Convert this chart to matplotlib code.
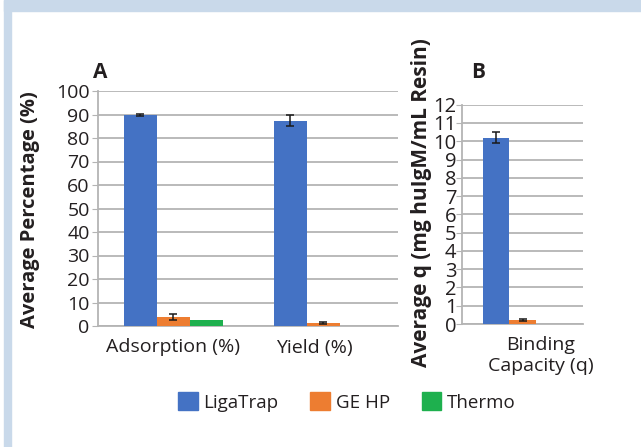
import numpy as np
import matplotlib.pyplot as plt
import matplotlib.transforms as mtransforms
from matplotlib.patches import Rectangle, Patch

plt.rcParams['font.family'] = ['Open Sans', 'DejaVu Sans']

# datos
series = ['LigaTrap', 'GE HP', 'Thermo']
colores = ['#4472C4', '#ED7D31', '#1EB04E']

cat_a = ['Adsorption (%)', 'Yield (%)']
val_a = {'LigaTrap': [89.8, 87.4], 'GE HP': [3.8, 1.3], 'Thermo': [2.6, 0.0]}
err_a = {'LigaTrap': [0.5, 2.4], 'GE HP': [1.3, 0.3], 'Thermo': [0.0, 0.0]}

cat_b = ['Binding\nCapacity (q)']
val_b = {'LigaTrap': [10.2], 'GE HP': [0.22], 'Thermo': [0.0]}
err_b = {'LigaTrap': [0.3], 'GE HP': [0.03], 'Thermo': [0.0]}

W, H = 641, 447
fig = plt.figure(figsize=(W / 100, H / 100), dpi=100)

# marco celeste de la pagina
azul = '#C9D9EA'
fig.patches.append(Rectangle((4 / W, 1 - 11 / H), 1, 11 / H, transform=fig.transFigure,
                             color=azul, zorder=0))
fig.patches.append(Rectangle((4 / W, 0), 7 / W, 1, transform=fig.transFigure,
                             color=azul, zorder=0))

gris = '#B4B4B4'
texto = '#231F20'
ancho = 0.22


def panel(ax, cats, vals, errs, ymax, paso):
    x = np.arange(len(cats))
    for i, s in enumerate(series):
        xs = x + (i - 1) * ancho
        ax.bar(xs, vals[s], ancho, color=colores[i], zorder=3)
        e = np.array(errs[s], dtype=float)
        m = e > 0
        if m.any():
            ax.errorbar(xs[m], np.array(vals[s])[m], yerr=e[m], fmt='none',
                        ecolor='#1a1a1a', elinewidth=1.1, capthick=1.1, capsize=3, zorder=4)
    ax.set_xlim(-0.5, len(cats) - 0.5)
    ax.set_ylim(0, ymax)
    ax.set_yticks(np.arange(0, ymax + 0.01, paso))
    ax.set_xticks(x)
    ax.set_xticklabels(cats, fontsize=14, color=texto)
    ax.yaxis.grid(True, color=gris, lw=1.3, zorder=0)
    for lado in ['top', 'right']:
        ax.spines[lado].set_visible(False)
    for lado in ['left', 'bottom']:
        ax.spines[lado].set_color(gris)
        ax.spines[lado].set_linewidth(1.3)
    ax.tick_params(axis='y', length=4, color=gris, labelsize=14, labelcolor=texto, pad=2)
    ax.tick_params(axis='x', length=0, pad=9)


def correr(lab, px):
    t = mtransforms.ScaledTranslation(px / 100, 0, fig.dpi_scale_trans)
    lab.set_transform(lab.get_transform() + t)


axA = fig.add_axes([98 / W, 1 - 326 / H, 300 / W, 235 / H])
panel(axA, cat_a, val_a, err_a, 100, 10)
correr(axA.get_xticklabels()[1], -9)

axB = fig.add_axes([462 / W, 1 - 324 / H, 121 / W, 219.3 / H])
panel(axB, cat_b, val_b, err_b, 12, 1)
axB.tick_params(axis='y', pad=0, labelsize=14.5)
correr(axB.get_xticklabels()[0], 18)

fig.text(30 / W, 1 - 210 / H, 'Average Percentage (%)', rotation=90, fontsize=14.5,
         fontweight='bold', ha='center', va='center', color=texto)
fig.text(422 / W, 1 - 203 / H, 'Average q (mg huIgM/mL Resin)', rotation=90, fontsize=15,
         fontweight='bold', ha='center', va='center', color=texto)
fig.text(100 / W, 1 - 72 / H, 'A', fontsize=15, fontweight='bold', ha='center', va='center',
         color=texto)
fig.text(478 / W, 1 - 72 / H, 'B', fontsize=15, fontweight='bold', ha='center', va='center',
         color=texto)

handles = [Patch(color=c, label=s) for s, c in zip(series, colores)]
fig.legend(handles=handles, loc='center', bbox_to_anchor=(347 / W, 1 - 402 / H), ncol=3,
           frameon=False, fontsize=13.5, handlelength=1.05, handleheight=1.05,
           handletextpad=0.3, columnspacing=1.7, labelcolor=texto)

plt.savefig('out.png', dpi=100)
